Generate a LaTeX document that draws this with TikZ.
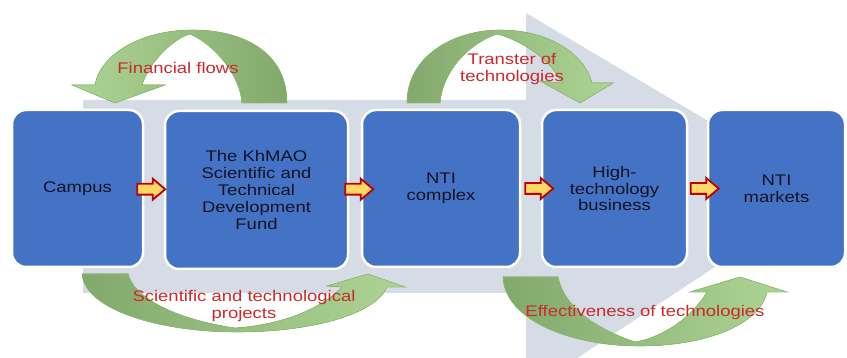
\documentclass[tikz,border=0pt]{standalone}
\usepackage{fontspec}
\setmainfont{Liberation Sans}[FakeStretch=1.2]
\usetikzlibrary{shapes.arrows,calc}
\definecolor{boxblue}{HTML}{4472C4}
\definecolor{band}{HTML}{D6DCE5}
\definecolor{greendark}{HTML}{82A86C}
\definecolor{greenlight}{HTML}{AED495}
\definecolor{greenline}{HTML}{8CC070}
\definecolor{labelred}{HTML}{CC2A2A}
\definecolor{boxtext}{HTML}{141428}
\definecolor{arrowfill}{HTML}{FFD966}
\definecolor{arrowline}{HTML}{C00000}
\begin{document}
\begin{tikzpicture}[x=1pt, y=-1pt,
   unit/.style={draw=white, line width=2.5pt, fill=boxblue, rounded corners=14pt,
                minimum height=157pt, text=boxtext, align=center,
                font=\fontsize{15.4}{16.8}\selectfont},
   link/.style={single arrow, draw=arrowline, line width=1.8pt, fill=arrowfill,
                minimum height=28pt, inner xsep=0pt, inner ysep=4.5pt,
                single arrow head extend=5pt, single arrow tip angle=80},
   flow/.style={draw=greenline, line width=0.6pt},
   tag/.style={text=labelred, align=center, font=\fontsize{15.4}{17}\selectfont}]
\useasboundingbox (0,0) rectangle (847,358);
% grey band behind the chain
\begin{scope}
  \clip (0,0) rectangle (847,358);
  \fill[band] (83,100) -- (526,100) -- (526,13) -- (828,192) -- (526,392)
     -- (526,293) -- (83,293) -- cycle;
\end{scope}
% green curved arrows
\fill[flow, left color=greenlight, right color=greendark]
   (287,103) .. controls (287,50) and (240,30) .. (193,30)
   .. controls (140,30) and (100,55) .. (95,85) -- (72,85) -- (115,103) -- (165,85)
   -- (142,85) .. controls (150,60) and (175,38) .. (190,34)
   .. controls (215,45) and (240,75) .. (242,103) -- cycle;
\fill[flow, left color=greendark, right color=greenlight]
   (407,103) .. controls (407,55) and (455,30) .. (500,30)
   .. controls (550,30) and (585,55) .. (592,83) -- (613,83) -- (580,103) -- (540,81)
   -- (562,83) .. controls (550,58) and (520,40) .. (497,34)
   .. controls (465,45) and (442,75) .. (440,103) -- cycle;
\fill[flow, left color=greendark, right color=greenlight]
   (82,274) .. controls (85,310) and (160,332) .. (237,332)
   .. controls (310,332) and (375,315) .. (387,287) -- (405,287) -- (368,274) -- (327,286)
   -- (342,287) .. controls (320,310) and (280,325) .. (235,328)
   .. controls (180,320) and (135,300) .. (128,274) -- cycle;
\fill[flow, left color=greendark, right color=greenlight]
   (503,277) .. controls (505,320) and (570,346) .. (640,346)
   .. controls (705,346) and (760,325) .. (767,292) -- (787,292) -- (740,277) -- (690,292)
   -- (707,292) .. controls (690,320) and (660,338) .. (635,342)
   .. controls (600,330) and (565,310) .. (558,277) -- cycle;
% the chain
\node[unit, minimum width=131pt] (campus) at (77.5,188.5) {Campus};
\node[unit, minimum width=183pt, minimum height=158pt] (fund) at (256.5,190)
   {The KhMAO\\Scientific and\\Technical\\Development\\Fund};
\node[unit, minimum width=158pt] (nti) at (441,188.5) {NTI\\complex};
\node[unit, minimum width=145pt] (htb) at (614.5,188.5) {High-\\technology\\business};
\node[unit, minimum width=137pt] (mkt) at (776.5,188.5) {NTI\\markets};
\foreach \a/\b/\s in {campus/fund/-6, fund/nti/1, nti/htb/5, htb/mkt/4}
  \node[link] (\a-\b) at ($(\a.east)!.5!(\b.west)+(\s,0)$) {};
% labels
\node[tag, anchor=base] (ff) at (178,74) {Financial flows};
\node[tag] (tt) at (512,69.5) {Transter of\\technologies};
\node[tag] (sp) at (244,305.6) {Scientific and technological\\projects};
\node[tag, anchor=base] (ef) at (645,317) {Effectiveness of technologies};
\end{tikzpicture}
\end{document}
